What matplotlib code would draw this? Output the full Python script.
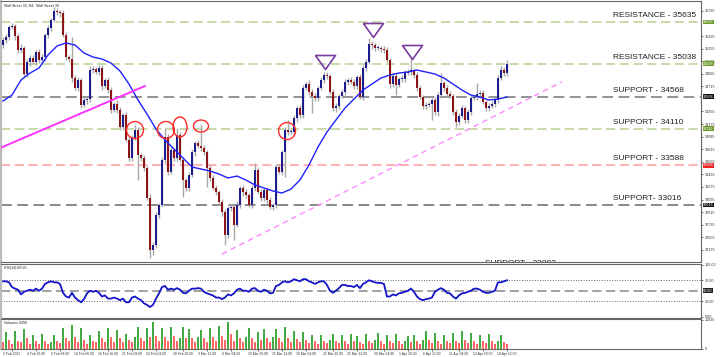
import numpy as np
import matplotlib
matplotlib.use('Agg')
import matplotlib.pyplot as plt
import matplotlib.transforms as mtransforms
from matplotlib.patches import Ellipse

plt.rcParams['font.family'] = ['Liberation Sans', 'DejaVu Sans']

# Wall Street 30, H4 candles
first_open = 35300
closes = [35378, 35420, 35564, 35578, 35435, 35234, 35263, 34891, 35063, 35120,
          35063, 35206, 35091, 35134, 35449, 35549, 35664, 35793, 35778, 35764,
          35449, 35134, 35106, 34834, 34691, 34805, 34447, 34519, 34533, 34948,
          34963, 34920, 34977, 34719, 34805, 34662, 34376, 34462, 34376, 34133,
          34304, 33947, 33689, 33975, 34090, 33732, 33689, 33546, 33117, 32373,
          32444, 32873, 33016, 33660, 33990, 33489, 33804, 33689, 34018, 33660,
          33374, 33260, 33446, 33775, 33904, 33861, 33832, 33775, 33546, 33403,
          33260, 33202, 33059, 32916, 32587, 32973, 32988, 32730, 33016, 33260,
          33202, 33160, 33016, 33260, 33517, 33202, 33117, 33231, 33088, 32988,
          33016, 33560, 33489, 33775, 34090, 34061, 34061, 34261, 34404, 34304,
          34691, 34748, 34633, 34576, 34548, 34691, 34805, 34877, 34862, 34633,
          34404, 34433, 34576, 34633, 34777, 34805, 34777, 34719, 34848, 34562,
          34977, 35063, 35320, 35306, 35263, 35263, 35249, 35234, 35091, 34748,
          34862, 34734, 34820, 34820, 34905, 34920, 34948, 34877, 34691, 34562,
          34433, 34447, 34462, 34519, 34347, 34590, 34762, 34691, 34605, 34576,
          34347, 34204, 34290, 34404, 34233, 34347, 34548, 34562, 34605, 34619,
          34490, 34404, 34433, 34462, 34519, 34834, 34948, 34905, 35034]
wick_up = [40, 45, 30, 50, 35, 40, 55, 30, 45, 40,
           50, 35, 45, 40, 30, 45, 35, 50, 40, 30,
           45, 40, 35, 314, 40, 50, 35, 45, 30, 60,
           40, 35, 45, 50, 30, 40, 45, 35, 55, 40,
           30, 45, 40, 50, 71, 40, 35, 45, 30, 60,
           40, 50, 35, 45, 128, 40, 45, 30, 100, 40,
           45, 35, 50, 40, 30, 45, 314, 40, 35, 50,
           40, 45, 30, 50, 40, 35, 45, 40, 55, 30,
           45, 40, 35, 50, 100, 40, 45, 30, 50, 40,
           35, 45, 40, 30, 45, 143, 40, 50, 35, 45,
           40, 30, 55, 45, 40, 35, 50, 40, 45, 30,
           40, 45, 35, 50, 40, 30, 45, 40, 35, 50,
           40, 45, 86, 40, 35, 45, 30, 40, 50, 35,
           45, 40, 30, 50, 40, 45, 172, 35, 40, 45,
           30, 50, 40, 35, 45, 40, 143, 35, 45, 40,
           30, 45, 40, 50, 35, 40, 45, 30, 157, 40,
           45, 35, 50, 40, 30, 45, 60, 40, 57]
wick_dn = [35, 40, 45, 30, 50, 40, 35, 45, 40, 55,
           30, 45, 40, 35, 50, 40, 45, 30, 40, 50,
           35, 45, 40, 50, 30, 40, 45, 35, 60, 40,
           45, 30, 40, 50, 35, 45, 40, 30, 45, 40,
           50, 35, 40, 45, 30, 358, 40, 45, 35, 115,
           73, 40, 45, 35, 50, 40, 30, 45, 40, 35,
           243, 40, 45, 30, 50, 35, 40, 45, 272, 40,
           35, 45, 40, 50, 143, 40, 45, 214, 35, 40,
           50, 40, 35, 45, 40, 30, 45, 40, 50, 35,
           40, 45, 30, 40, 358, 45, 35, 40, 50, 45,
           40, 35, 45, 243, 40, 50, 35, 40, 45, 30,
           40, 57, 45, 35, 40, 50, 30, 45, 40, 35,
           45, 40, 30, 50, 40, 35, 45, 40, 30, 50,
           40, 144, 35, 45, 40, 30, 50, 40, 45, 35,
           40, 45, 30, 229, 40, 50, 35, 45, 40, 30,
           45, 71, 40, 35, 50, 40, 45, 30, 40, 50,
           35, 45, 40, 30, 50, 40, 35, 45, 40]

# moving average, one reading every 3 candles
ma_step = 3
ma_vals = [34505, 34590, 34805, 34905, 34977, 35163, 35292, 35335, 35306, 35192,
           35134, 35106, 35048, 34934, 34748, 34519, 34319, 34104, 33947, 33818,
           33689, 33560, 33532, 33503, 33460, 33403, 33431, 33374, 33303, 33260,
           33217, 33188, 33245, 33374, 33589, 33846, 34061, 34233, 34404, 34533,
           34662, 34748, 34834, 34877, 34905, 34920, 34948, 34920, 34891, 34834,
           34748, 34662, 34590, 34562, 34519, 34533, 34562]

rsi = [68, 68, 66, 57, 54, 52, 43, 48, 50, 52, 50, 54, 50, 54, 63, 66, 68, 66, 66, 63,
       46, 39, 37, 46, 37, 32, 28, 34, 45, 50, 48, 50, 46, 39, 41, 35, 35, 37, 35, 32,
       35, 28, 28, 37, 39, 35, 32, 26, 23, 19, 23, 35, 45, 57, 59, 52, 54, 52, 55, 52,
       46, 45, 50, 54, 54, 55, 54, 48, 45, 43, 41, 37, 37, 34, 37, 43, 41, 45, 52, 54,
       50, 50, 48, 54, 55, 50, 48, 52, 50, 45, 46, 59, 61, 66, 68, 66, 68, 72, 70, 68,
       72, 72, 68, 66, 63, 66, 68, 68, 61, 50, 46, 50, 55, 61, 61, 59, 59, 57, 61, 55,
       63, 66, 70, 68, 66, 65, 65, 63, 39, 39, 43, 41, 45, 46, 48, 50, 54, 48, 39, 34,
       32, 34, 35, 37, 48, 52, 55, 52, 46, 45, 39, 35, 41, 45, 46, 48, 50, 54, 54, 52,
       48, 46, 46, 48, 50, 66, 66, 68, 70]

volumes = [2500, 6500, 3500, 2000, 6800, 3000, 2500, 7600, 4000, 2000,
           5300, 3200, 2000, 5700, 3000, 1800, 2500, 5300, 3000, 2200,
           8000, 4200, 3000, 9100, 4500, 2500, 8000, 3500, 2000, 5300,
           3000, 2500, 6800, 4000, 2800, 8000, 4500, 2500, 7200, 4000,
           2500, 5700, 3500, 2800, 4500, 8400, 4000, 3000, 8000, 4500,
           10300, 5000, 3000, 8000, 4500, 3000, 8400, 5000, 3200, 4000,
           8400, 4000, 7600, 4200, 2800, 4500, 7200, 4000, 2800, 8000,
           4500, 3000, 8700, 5000, 3500, 10300, 5500, 3000, 7200, 4000,
           2800, 4500, 8000, 4000, 2500, 6500, 3500, 7600, 4000, 2500,
           4500, 7600, 4000, 2800, 8400, 4200, 2500, 6800, 3800, 2500,
           6500, 3500, 2200, 5300, 3000, 2000, 5300, 3000, 2200, 3500,
           5700, 3000, 2200, 5300, 3200, 2000, 5700, 3000, 5000, 2500,
           2000, 5700, 3200, 2200, 3500, 6100, 3200, 2000, 5300, 3000,
           2200, 5700, 3000, 2000, 3000, 5000, 2800, 5300, 3000, 2000,
           3500, 6800, 3500, 2200, 6100, 3200, 2000, 5300, 3000, 2200,
           6100, 3200, 2200, 6800, 3500, 2200, 6100, 3200, 2000, 5300,
           3000, 2200, 5700, 3200, 2000, 3000, 5300, 2700, 2000]

date_labels = ['2 Feb 2022', '4 Feb 16:00', '9 Feb 08:00', '14 Feb 00:00', '16 Feb 16:00',
               '21 Feb 08:00', '24 Feb 04:00', '28 Feb 20:00', '3 Mar 12:00', '8 Mar 04:00',
               '10 Mar 20:00', '15 Mar 12:00', '18 Mar 04:00', '22 Mar 20:00', '25 Mar 12:00',
               '30 Mar 04:00', '1 Apr 20:00', '6 Apr 12:00', '11 Apr 04:00', '13 Apr 20:00',
               '19 Apr 12:00']
date_pos = [3, 11, 19, 27, 35, 43, 51, 60, 68, 76, 85, 93, 101, 110, 118, 127, 135, 143,
            152, 160, 168]

levels = [35635, 35038, 34568, 34110, 33588, 33016]
level_names = ['RESISTANCE - 35635', 'RESISTANCE - 35038', 'SUPPORT - 34568',
               'SUPPORT - 34110', 'SUPPORT - 33588', 'SUPPORT- 33016']
low_support = 32082
price_ticks = [32375, 32555, 32735, 32915, 33095, 33275, 33455, 33635, 33815, 33995,
               34175, 34355, 34715, 34895, 35075, 35255, 35435, 35795]

circles = [(44, 34090), (54.3, 34090), (59, 34133), (66, 34147), (94.7, 34075)]
triangles = [(107.3, 35070), (123.2, 35521), (136.5, 35206)]
trend_solid = ([-1, 47.3], [33832, 34719])
trend_dash = ([73, 186.3], [32315, 34777])

# ---------------------------------------------------------------
n = len(closes)
x = np.arange(n)
c = np.array(closes, dtype=float)
o = np.array([first_open] + closes[:-1], dtype=float)
top = np.maximum(o, c)
bot = np.minimum(o, c)
highs = top + np.array(wick_up)
lows = bot - np.array(wick_dn)

XL = (-0.67, 232.7)
W = 700 / 720
fig = plt.figure(figsize=(7.2, 3.57), dpi=100)
ax = fig.add_axes([1/720, 95/357, W, 261/357])
ax_rsi = fig.add_axes([1/720, 39/357, W, 54/357])
ax_vol = fig.add_axes([1/720, 8/357, W, 30/357])

for a in (ax, ax_rsi, ax_vol):
    a.set_xlim(*XL)
    a.yaxis.tick_right()
    a.tick_params(axis='y', labelsize=2.7, length=1.5, width=0.5, pad=1.0, colors='#333333')
    for s in a.spines.values():
        s.set_color('#666666')
        s.set_linewidth(0.8)
    a.spines['left'].set_color('#bbbbbb')
    a.spines['left'].set_linewidth(1.6)

# main price panel
ax.set_ylim(32201, 35936)
ax.set_xticks([])
ax.set_yticks(price_ticks)
ax.set_yticklabels([str(t) for t in price_ticks])

lvl_colors = ['#b9cf92', '#b9cf92', '#8a8a8a', '#b9cf92', '#ff9c9c', '#808080']
box_colors = ['#6f9a2c', '#6f9a2c', '#111111', '#6f9a2c', '#ee2222', '#111111']
trans = mtransforms.blended_transform_factory(ax.transAxes, ax.transData)
for lv, name, lc, bc in zip(levels, level_names, lvl_colors, box_colors):
    lw = 1.3 if lc in ('#8a8a8a', '#808080') else 1.1
    ax.axhline(lv, color=lc, lw=lw, ls=(0, (6, 3)), zorder=1)
    ax.annotate(name, xy=(0.874, lv), xycoords=trans, xytext=(0, 2.2),
                textcoords='offset points', fontsize=6, color='#222222',
                ha='left', va='bottom')
    ax.annotate(str(lv), xy=(1.0, lv), xycoords=trans, xytext=(1.5, 0),
                textcoords='offset points', fontsize=2.7, color='white',
                ha='left', va='center', annotation_clip=False, zorder=5,
                bbox=dict(boxstyle='square,pad=0.12', fc=bc, ec='none'))
ax.text(0.691, low_support + 104, 'SUPPORT - ' + str(low_support), transform=trans,
        fontsize=6, color='#222222', ha='left', va='center', clip_on=True)

ax.vlines(x, lows, highs, color='#a8a8a8', lw=1.0, zorder=2)
body_col = np.where(c >= o, '#1c1c8c', '#8c1414')
ax.bar(x, np.maximum(top - bot, 12), bottom=bot, width=0.5, color=body_col, zorder=3)

ma_x = np.arange(0, n, ma_step)
ax.plot(ma_x, ma_vals, color='#2020ff', lw=1.0, zorder=4)

ax.plot(*trend_solid, color='#ff33ff', lw=1.4, zorder=4)
ax.plot(*trend_dash, color='#ff88ff', lw=1.0, ls=(0, (4, 3)), zorder=4)

circle_px = [(17, 17), (17, 17), (14, 20), (15, 12), (17, 17)]
px_price = 14.31
for (cx, cy), (w, h) in zip(circles, circle_px):
    ax.add_patch(Ellipse((cx, cy), w / 3, h * px_price, fill=False,
                         ec='#ff2a2a', lw=1.0, zorder=5))

tri = [(-1, 0.7), (1, 0.7), (0, -0.7), (-1, 0.7)]
tx, ty = zip(*triangles)
ax.plot(tx, ty, ls='none', marker=tri, ms=14.4, mfc='none', mec='#7a3c9e', mew=1.2,
        zorder=5)

ax.text(0.004, 0.99, 'Wall Street 30, H4:  Wall Street 30', transform=ax.transAxes,
        fontsize=2.6, color='#222222', va='top', ha='left')

# RSI panel
ax_rsi.set_ylim(-2, 101)
ax_rsi.set_xticks([])
ax_rsi.axhline(70, color='#666666', lw=0.7, ls=':')
ax_rsi.axhline(30, color='#666666', lw=0.7, ls=':')
ax_rsi.axhline(50, color='#888888', lw=1.1, ls=(0, (6, 3)))
ax_rsi.plot(x, rsi, color='#1414c8', lw=1.3)
ax_rsi.set_yticks([100, 70, 30, 0])
ax_rsi.set_yticklabels(['100.00', '70.00', '30.00', '0.00'])
rtrans = mtransforms.blended_transform_factory(ax_rsi.transAxes, ax_rsi.transData)
ax_rsi.annotate('50.00', xy=(1.0, 50), xycoords=rtrans, xytext=(1.5, 0),
                textcoords='offset points', fontsize=2.7, color='white', ha='left',
                va='center', annotation_clip=False,
                bbox=dict(boxstyle='square,pad=0.12', fc='#222222', ec='none'))
ax_rsi.text(0.004, 0.96, 'RSI(14) 68.50', transform=ax_rsi.transAxes, fontsize=2.6,
            color='#222222', va='top', ha='left')

# volume panel
v = np.array(volumes)
vcol = ['#44aa44' if i > 0 and v[i] > v[i - 1] else '#ff6666' for i in range(n)]
ax_vol.bar(x, v, width=0.6, color=vcol)
ax_vol.set_ylim(0, 11035 * 1.03)
ax_vol.set_yticks([11035, 0])
ax_vol.set_yticklabels(['11035', '0'])
ax_vol.set_xticks(date_pos)
ax_vol.set_xticklabels(date_labels)
ax_vol.tick_params(axis='x', labelsize=2.4, length=1.5, width=0.5, pad=0.8,
                   colors='#333333')
ax_vol.text(0.004, 0.95, 'Volumes 9290', transform=ax_vol.transAxes, fontsize=2.6,
            color='#222222', va='top', ha='left')

fig.savefig('out.png', dpi=100)
